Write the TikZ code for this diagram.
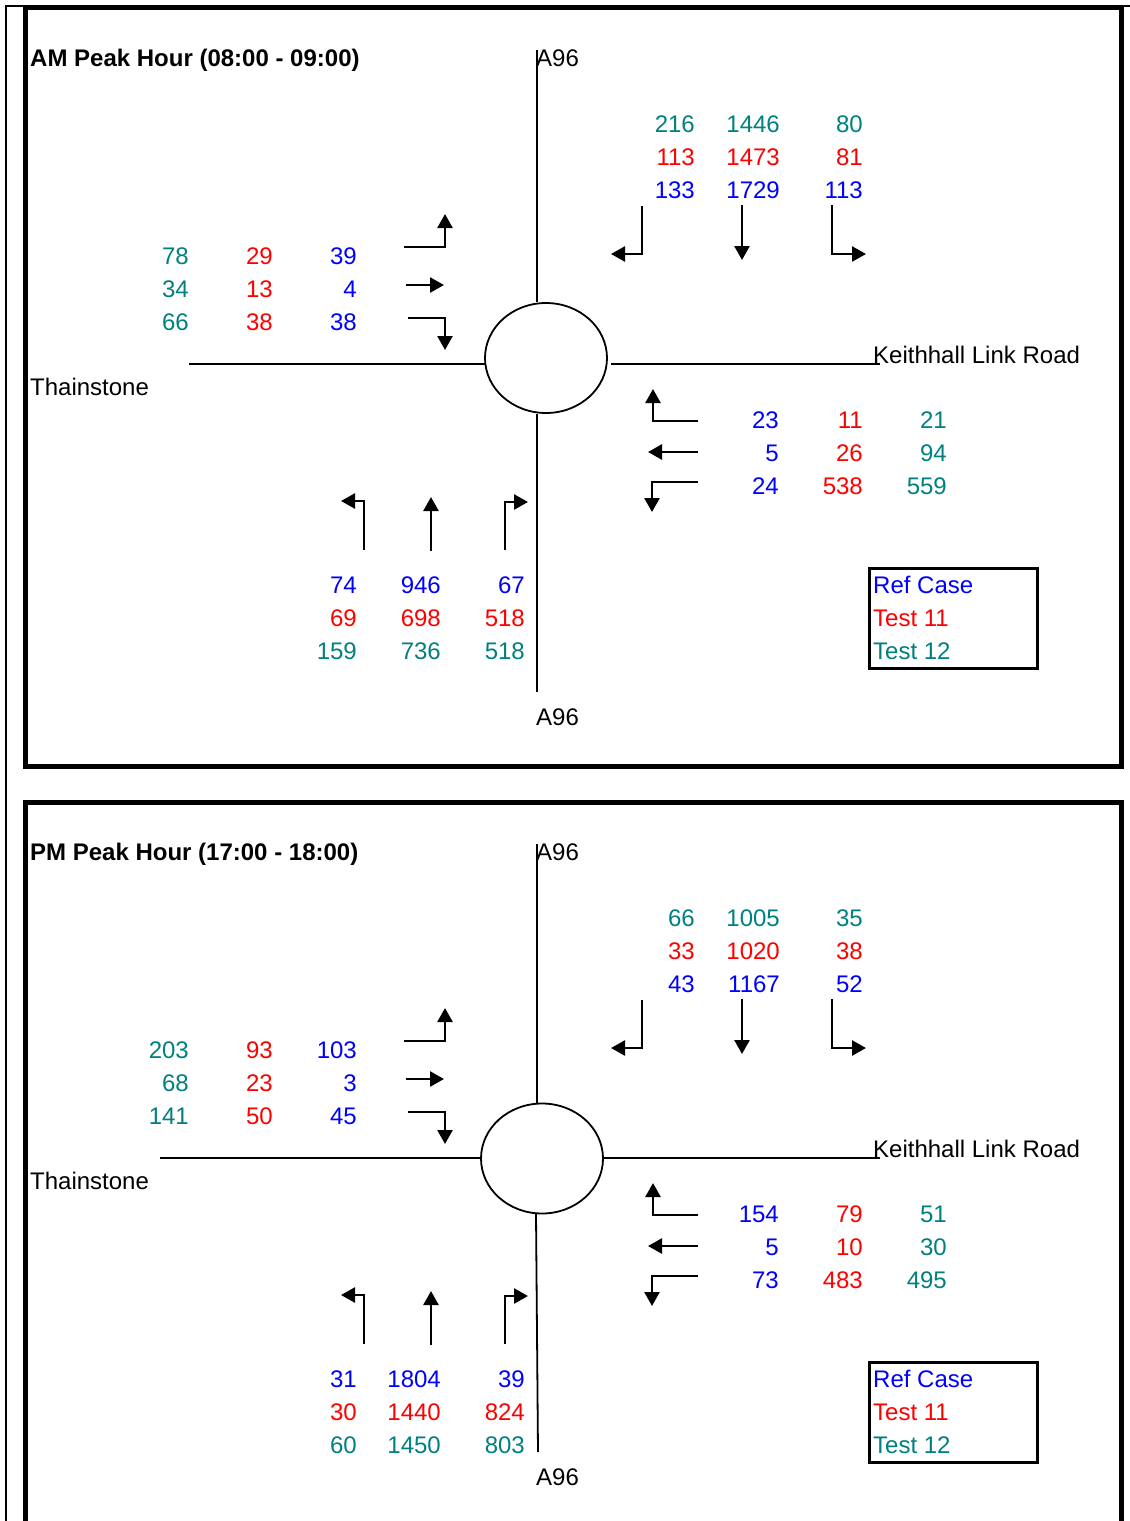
\documentclass[tikz,border=0pt]{standalone}
\usepackage{fontspec}
\setmainfont{Liberation Sans}
\usetikzlibrary{arrows.meta,shapes.geometric}

\definecolor{bl}{RGB}{0,0,255}
\definecolor{rd}{RGB}{255,0,0}
\definecolor{tl}{RGB}{0,128,128}

\tikzset{
  txt/.style={font=\fontsize{24}{28}\selectfont, inner sep=0pt},
  num/.style={txt, anchor=base east, xshift=1pt},
  lbl/.style={txt, anchor=base west},
  headline/.style={lbl, font=\bfseries\fontsize{24}{28}\selectfont},
  road/.style={line width=1.8pt},
  rbout/.style={ellipse, draw, line width=1.8pt, inner sep=0pt,
                minimum width=122pt, minimum height=110pt},
  mv/.style={line width=2.6pt, line join=miter,
             -{Triangle[length=14pt,width=15pt]}},
  frame/.style={line width=5pt, line join=miter},
  keybox/.style={draw, line width=3pt, inner sep=0pt, anchor=north west,
                 minimum width=168pt, minimum height=100pt},
}

% turning-movement arrows on the four approaches
\newcommand\movearrows{%
  % from the north
  \draw[mv] (642,206) -- (642,254) -- (611,254);
  \draw[mv] (742,205) -- (742,260);
  \draw[mv] (832,205) -- (832,254) -- (866,254);
  % from the west
  \draw[mv] (404,247) -- (445,247) -- (445,214);
  \draw[mv] (406,285) -- (444,285);
  \draw[mv] (408,318) -- (445,318) -- (445,350);
  % from the east
  \draw[mv] (698,421) -- (653,421) -- (653,389);
  \draw[mv] (698,452) -- (648,452);
  \draw[mv] (698,482) -- (652,482) -- (652,512);
  % from the south
  \draw[mv] (364,550) -- (364,501) -- (341,501);
  \draw[mv] (431,551) -- (431,497);
  \draw[mv] (505,550) -- (505,502) -- (528,502);
}

% road names and the colour key; #2 is the baseline of the southern A96
\newcommand\roadlabels[2]{%
  \node[lbl] (#1-a96n) at (536,66) {A96};
  \node[lbl] (#1-a96s) at (536,#2) {A96};
  \node[lbl] (#1-keith) at (873,363) {Keithhall Link Road};
  \node[lbl] (#1-thain) at (30,395) {Thainstone};
  \node[keybox] (#1-key) at (868,567) {};
  \node[lbl, text=bl] (#1-kref) at (873,593) {Ref Case};
  \node[lbl, text=rd] (#1-k11) at (873,626) {Test 11};
  \node[lbl, text=tl] (#1-k12) at (873,659) {Test 12};
}

\begin{document}
\begin{tikzpicture}[x=1pt,y=-1pt]
\useasboundingbox (0,0) rectangle (1130,1521);
\fill[white] (0,0) rectangle (1130,1521);

% outer rule
\draw[line width=2pt] (6,1521) -- (6,6) -- (1130,6);

% panel frames
\draw[frame] (25,7.5) rectangle (1121,766.5);
\draw[frame] (25,1521) -- (25,802) -- (1121,802) -- (1121,1521);

% ---------- AM peak ----------
\node[headline] (am-title) at (30,66) {AM Peak Hour (08:00 - 09:00)};
\node[rbout] (am-rb) at (546,358) {};
\coordinate (am-n) at (537,50);
\coordinate (am-s) at (537,692);
\coordinate (am-w) at (189,364);
\coordinate (am-e) at (880,364);
\draw[road] (am-n) -- (am-n |- am-rb.north);
\draw[road] (am-s) -- (am-s |- am-rb.south);
\draw[road] (am-w) -- (485,364);
\draw[road] (611,364) -- (am-e);
\movearrows
\roadlabels{am}{725}
\foreach \v/\x/\y/\c [count=\i] in {
  216/694/132/tl, 1446/779/132/tl, 80/862/132/tl,
  113/694/165/rd, 1473/779/165/rd, 81/862/165/rd,
  133/694/198/bl, 1729/779/198/bl, 113/862/198/bl,
  78/188/264/tl, 29/272/264/rd, 39/356/264/bl,
  34/188/297/tl, 13/272/297/rd, 4/356/297/bl,
  66/188/330/tl, 38/272/330/rd, 38/356/330/bl,
  23/778/428/bl, 11/862/428/rd, 21/946/428/tl,
  5/778/461/bl, 26/862/461/rd, 94/946/461/tl,
  24/778/494/bl, 538/862/494/rd, 559/946/494/tl,
  74/356/593/bl, 946/440/593/bl, 67/524/593/bl,
  69/356/626/rd, 698/440/626/rd, 518/524/626/rd,
  159/356/659/tl, 736/440/659/tl, 518/524/659/tl}
  \node[num, text=\c] (am-v\i) at (\x,\y) {\v};

% ---------- PM peak ----------
\begin{scope}[yshift=-794pt]
\node[headline] (pm-title) at (30,66) {PM Peak Hour (17:00 - 18:00)};
\node[rbout] (pm-rb) at (542,364.5) {};
\coordinate (pm-n) at (537,50);
\coordinate (pm-s) at (538,658);
\coordinate (pm-w) at (160,364);
\coordinate (pm-e) at (880,364);
\draw[road] (pm-n) -- (pm-n |- pm-rb.north);
\draw[road] (536,420) -- (pm-s);
\draw[road] (pm-w) -- (481,364);
\draw[road] (603,364) -- (pm-e);
\movearrows
\roadlabels{pm}{691}
\foreach \v/\x/\y/\c [count=\i] in {
  66/694/132/tl, 1005/779/132/tl, 35/862/132/tl,
  33/694/165/rd, 1020/779/165/rd, 38/862/165/rd,
  43/694/198/bl, 1167/779/198/bl, 52/862/198/bl,
  203/188/264/tl, 93/272/264/rd, 103/356/264/bl,
  68/188/297/tl, 23/272/297/rd, 3/356/297/bl,
  141/188/330/tl, 50/272/330/rd, 45/356/330/bl,
  154/778/428/bl, 79/862/428/rd, 51/946/428/tl,
  5/778/461/bl, 10/862/461/rd, 30/946/461/tl,
  73/778/494/bl, 483/862/494/rd, 495/946/494/tl,
  31/356/593/bl, 1804/440/593/bl, 39/524/593/bl,
  30/356/626/rd, 1440/440/626/rd, 824/524/626/rd,
  60/356/659/tl, 1450/440/659/tl, 803/524/659/tl}
  \node[num, text=\c] (pm-v\i) at (\x,\y) {\v};
\end{scope}
\end{tikzpicture}
\end{document}
